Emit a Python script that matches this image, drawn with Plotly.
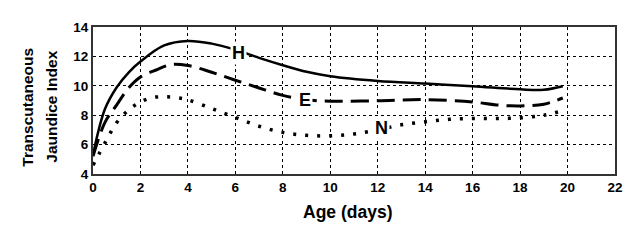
import plotly.graph_objects as go

# transcutaneous jaundice index by age, three groups
h_days = [0, 0.5, 1, 1.5, 2, 3, 4, 5, 6, 7, 8, 9, 10, 12, 14, 16, 18, 19, 19.8]
h_index = [5.3, 8.4, 9.9, 10.9, 11.65, 12.75, 13.05, 12.87, 12.45, 11.9, 11.4, 10.95, 10.65, 10.33, 10.15, 9.97, 9.76, 9.73, 9.97]

e_days = [0, 0.5, 1, 1.5, 2, 2.7, 3.3, 4, 5, 6, 7, 8, 9, 10, 12, 14, 16, 17, 18, 19, 19.8]
e_index = [5.2, 7.5, 8.7, 9.85, 10.6, 11.1, 11.45, 11.38, 10.92, 10.38, 9.85, 9.35, 9.05, 8.95, 8.98, 9.06, 8.9, 8.7, 8.63, 8.75, 9.17]

n_days = [0, 0.5, 1, 1.5, 2, 2.5, 3, 3.5, 4, 5, 6, 7, 8, 9, 10, 11, 12, 13, 14, 15, 16, 17, 18, 19, 19.8]
n_index = [4.6, 6.1, 7.5, 8.35, 8.9, 9.2, 9.25, 9.2, 9.05, 8.45, 7.85, 7.25, 6.83, 6.63, 6.6, 6.72, 7.0, 7.35, 7.55, 7.72, 7.77, 7.77, 7.82, 8.0, 8.3]

labels = ["H", "E", "N"]
label_x = [6.15, 8.95, 12.15]
label_y = [12.2, 9.05, 7.1]

x_ticks = list(range(0, 23, 2))
y_ticks = list(range(4, 15, 2))

font_name = "Liberation Sans, Arial"

fig = go.Figure()
fig.add_trace(go.Scatter(x=h_days, y=h_index, mode="lines", line=dict(color="black", width=2.5, shape="spline")))
fig.add_trace(go.Scatter(x=e_days, y=e_index, mode="lines", line=dict(color="black", width=3, dash="18px,8px", shape="spline")))
fig.add_trace(go.Scatter(x=n_days, y=n_index, mode="lines", line=dict(color="black", width=3.5, dash="3px,9px", shape="spline")))

for t, x, y in zip(labels, label_x, label_y):
    fig.add_annotation(x=x, y=y, text="<b>" + t + "</b>", showarrow=False,
                       font=dict(family=font_name, size=18, color="black"),
                       bgcolor="white", borderpad=1)

# y title, two lines placed separately
fig.add_annotation(xref="paper", yref="paper", x=-0.125, y=0.456, xanchor="center", yanchor="middle",
                   text="<b>Transcutaneous</b>", textangle=-90, showarrow=False,
                   font=dict(family=font_name, size=15.5, color="black"))
fig.add_annotation(xref="paper", yref="paper", x=-0.079, y=0.456, xanchor="center", yanchor="middle",
                   text="<b>Jaundice Index</b>", textangle=-90, showarrow=False,
                   font=dict(family=font_name, size=15.5, color="black"))
fig.add_annotation(xref="paper", yref="paper", x=0.4876, y=-0.259, xanchor="center", yanchor="middle",
                   text="<b>Age (days)</b>", showarrow=False,
                   font=dict(family=font_name, size=17.5, color="black"))

axis_font = dict(family=font_name, size=13.5, color="black")
fig.update_xaxes(range=[0, 22], tickvals=x_ticks, ticktext=["<b>%d</b>" % v for v in x_ticks],
                 tickfont=axis_font, showgrid=True, gridcolor="black", griddash="dot", gridwidth=1,
                 showline=True, linecolor="#333", linewidth=2, mirror=True, zeroline=False)
fig.update_yaxes(range=[4, 14], tickvals=y_ticks, ticktext=["<b>%d</b>" % v for v in y_ticks],
                 tickfont=axis_font, showgrid=True, gridcolor="black", griddash="dot", gridwidth=1,
                 showline=True, linecolor="#333", linewidth=2, mirror=True, zeroline=False)

# page body has an 8px margin, so offsets are reduced by 8
fig.update_layout(width=635, height=236, showlegend=False,
                  margin=dict(l=85, r=28, t=19, b=70),
                  plot_bgcolor="white", paper_bgcolor="white")
fig.write_html("out.html")
